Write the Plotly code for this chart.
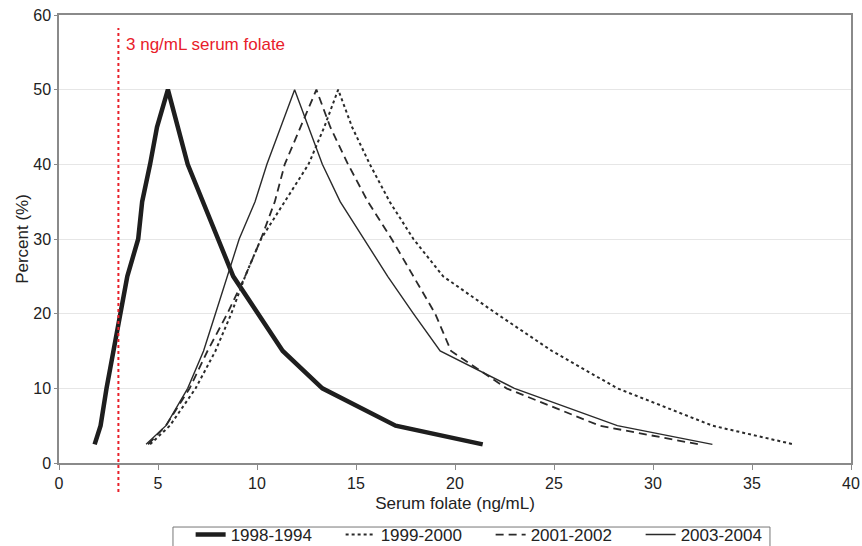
import plotly.graph_objects as go

# Data (mountain plots of serum folate)
x_1998 = [1.8, 2.1, 2.4, 3.45, 4.0, 4.2, 4.6, 4.95, 5.5, 6.5, 8.8, 11.3, 13.3, 17.0, 21.4]
y_1998 = [2.5, 5, 10, 25, 30, 35, 40, 45, 50, 40, 25, 15, 10, 5, 2.5]

x_1999 = [4.6, 5.6, 6.9, 7.9, 8.7, 9.4, 10.2, 11.4, 12.6, 13.4, 14.1,
          14.8, 15.7, 16.7, 17.9, 19.4, 22.1, 24.9, 28.2, 33.0, 37.1]
y_1999 = [2.5, 5, 10, 15, 20, 25, 30, 35, 40, 45, 50,
          45, 40, 35, 30, 25, 20, 15, 10, 5, 2.5]

x_2001 = [4.5, 5.4, 6.6, 7.5, 8.5, 9.4, 10.2, 10.9, 11.4, 12.2, 13.0,
          13.7, 14.6, 15.6, 16.8, 17.9, 19.0, 19.8, 22.6, 27.3, 32.3]
y_2001 = [2.5, 5, 10, 15, 20, 25, 30, 35, 40, 45, 50,
          45, 40, 35, 30, 25, 20, 15, 10, 5, 2.5]

x_2003 = [4.4, 5.4, 6.5, 7.3, 7.9, 8.5, 9.1, 9.9, 10.5, 11.2, 11.9,
          12.6, 13.3, 14.2, 15.4, 16.6, 17.9, 19.25, 23.0, 28.2, 33.0]
y_2003 = [2.5, 5, 10, 15, 20, 25, 30, 35, 40, 45, 50,
          45, 40, 35, 30, 25, 20, 15, 10, 5, 2.5]

cutoff = 3
cutoff_label = "3 ng/mL serum folate"

x_ticks = [0, 5, 10, 15, 20, 25, 30, 35, 40]
y_ticks = [0, 10, 20, 30, 40, 50, 60]

FONT = "Liberation Sans, Arial, sans-serif"

fig = go.Figure()
fig.add_trace(go.Scatter(x=x_1998, y=y_1998, mode="lines", name="1998-1994",
                         line=dict(color="#1e1e1e", width=4.5)))
fig.add_trace(go.Scatter(x=x_1999, y=y_1999, mode="lines", name="1999-2000",
                         line=dict(color="#2a2a2a", width=2, dash="dot")))
fig.add_trace(go.Scatter(x=x_2001, y=y_2001, mode="lines", name="2001-2002",
                         line=dict(color="#2a2a2a", width=1.8, dash="8px,5px")))
fig.add_trace(go.Scatter(x=x_2003, y=y_2003, mode="lines", name="2003-2004",
                         line=dict(color="#2a2a2a", width=1.4)))

fig.add_shape(type="line", xref="x", yref="paper", x0=cutoff, x1=cutoff,
              y0=-0.065, y1=0.971, line=dict(color="#e8202a", width=2, dash="dot"))
fig.add_annotation(x=cutoff, y=56, xref="x", yref="y", text=cutoff_label,
                   showarrow=False, xanchor="left", xshift=6,
                   font=dict(color="#e8202a", size=17, family=FONT))

# legend frame
fig.add_shape(type="rect", xref="paper", yref="paper",
              x0=0.1439, x1=0.8977, y0=-0.1429, y1=-0.25,
              line=dict(color="#777777", width=1), fillcolor="rgba(0,0,0,0)")

fig.update_layout(
    width=862, height=546,
    margin=dict(l=59, r=11, t=15, b=83, autoexpand=False),
    paper_bgcolor="white", plot_bgcolor="white",
    font=dict(family=FONT, size=16, color="#222222"),
    showlegend=True,
    legend=dict(orientation="h", x=0.1662, y=-0.1205, xanchor="left", yanchor="top",
                bgcolor="rgba(0,0,0,0)", borderwidth=0,
                entrywidth=105, entrywidthmode="pixels",
                font=dict(size=17, family=FONT, color="#222222"),
                tracegroupgap=0),
    xaxis=dict(range=[0, 40], tickvals=x_ticks, showgrid=False, zeroline=False,
               showline=True, linecolor="#8a8a8a", linewidth=1.5, mirror=True,
               ticks="outside", ticklen=5, tickcolor="#8a8a8a",
               tickfont=dict(size=16),
               title=dict(text="Serum folate (ng/mL)", standoff=6,
                          font=dict(size=17, family=FONT))),
    yaxis=dict(range=[0, 60], tickvals=y_ticks, showgrid=True, gridcolor="#e6e6e6",
               gridwidth=1, zeroline=False, showline=True, linecolor="#8a8a8a",
               linewidth=1.5, mirror=True, ticks="outside", ticklen=3,
               tickcolor="#8a8a8a", tickfont=dict(size=16),
               title=dict(text="Percent (%)", standoff=0,
                          font=dict(size=17, family=FONT))),
)

fig.write_html("out.html")
